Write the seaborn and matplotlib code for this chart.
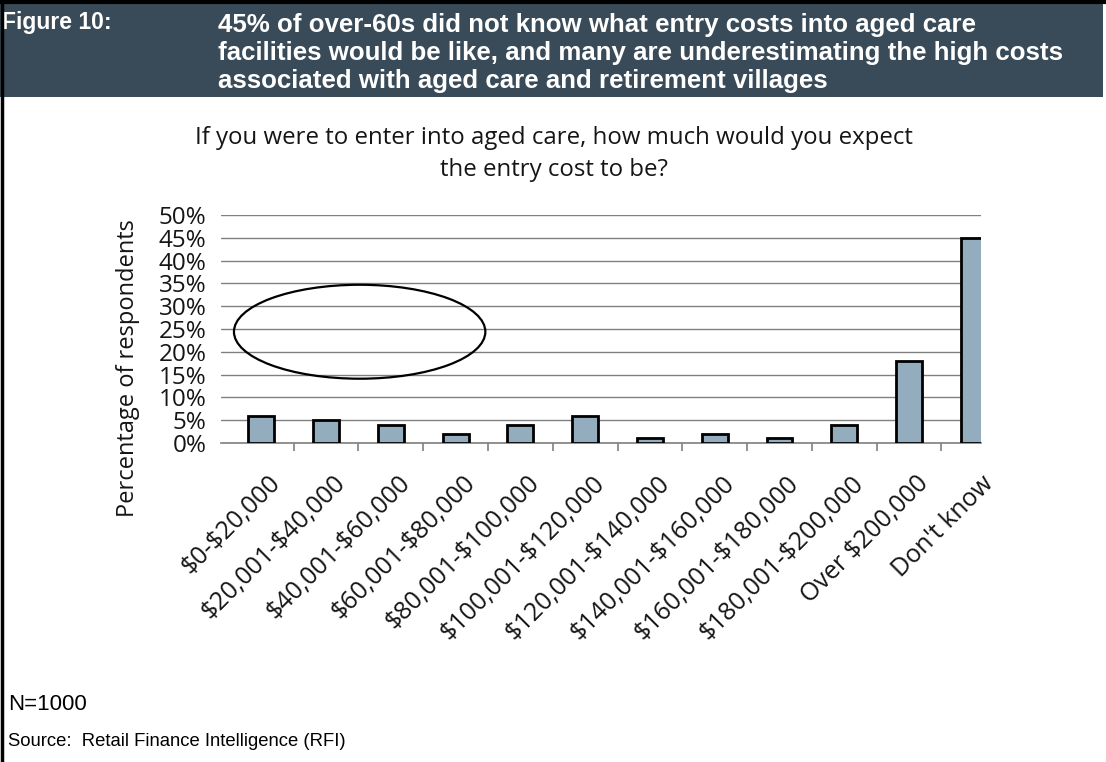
import matplotlib
matplotlib.use("Agg")
import matplotlib.pyplot as plt
import matplotlib.transforms as mtransforms
from matplotlib.patches import Ellipse, Rectangle
from matplotlib.lines import Line2D
import seaborn as sns
import pandas as pd

# Survey answers: expected entry cost into aged care
categories = ["$0-$20,000", "$20,001-$40,000", "$40,001-$60,000", "$60,001-$80,000",
              "$80,001-$100,000", "$100,001-$120,000", "$120,001-$140,000",
              "$140,001-$160,000", "$160,001-$180,000", "$180,001-$200,000",
              "Over $200,000", "Don't know"]
share_pct = [6, 5, 4, 2, 4, 6, 1, 2, 1, 4, 18, 45]
y_ticks = [0, 5, 10, 15, 20, 25, 30, 35, 40, 45, 50]

header_label = "Figure 10:"
header_text = ("45% of over-60s did not know what entry costs into aged care\n"
               "facilities would be like, and many are underestimating the high costs\n"
               "associated with aged care and retirement villages")
chart_title = ("If you were to enter into aged care, how much would you expect\n"
               "the entry cost to be?")
sample_note = "N=1000"
source_note = "Source:  Retail Finance Intelligence (RFI)"

df = pd.DataFrame({"category": categories, "share": share_pct})

sns.set_theme(style="white")
W, H = 1106, 762
fig = plt.figure(figsize=(W / 100, H / 100), dpi=100)
fig.patch.set_facecolor("white")

chart_font = ["Open Sans", "DejaVu Sans"]
note_font = ["Liberation Sans", "DejaVu Sans"]
ink = "#151515"


def fx(px):
    return px / W


def fy(py):
    return 1 - py / H


def plain(s):
    # keep dollar signs literal instead of starting mathtext
    return s.replace("$", r"\$")


# Header band
fig.add_artist(Rectangle((0, fy(97)), fx(1103), 97 / H, transform=fig.transFigure,
                         facecolor="#394B58", edgecolor="none", zorder=0))
fig.text(fx(2), fy(23), header_label, color="white", fontsize=16.5, fontweight="bold",
         family=note_font, ha="left", va="center")
fig.text(fx(218), fy(53), header_text, color="white", fontsize=18.6, fontweight="bold",
         family=note_font, ha="left", va="center", linespacing=1.2)

# Outer border lines
fig.add_artist(Line2D([fx(1.5), fx(1.5)], [0, 1], transform=fig.transFigure,
                      color="black", lw=2.5, zorder=5))
fig.add_artist(Line2D([0, 1], [fy(1.5), fy(1.5)], transform=fig.transFigure,
                      color="black", lw=3, zorder=5))

# Chart area
ax = fig.add_axes([fx(221), fy(443), fx(981 - 221), (443 - 215) / H])
sns.barplot(data=df, x="category", y="share", ax=ax, color="#93ACBE", width=0.4,
            edgecolor="black", linewidth=2, saturation=1, zorder=3)

ax.set_xlim(-0.62, 11.11)
ax.set_ylim(0, 50)
ax.set_yticks(y_ticks)
ax.set_yticklabels([f"{v}%" for v in y_ticks], family=chart_font, fontsize=17.5,
                   color=ink)
ax.yaxis.grid(True, color="#808080", lw=1.0, zorder=0)
ax.xaxis.grid(False)
ax.tick_params(axis="y", length=0, pad=10.5)
for s in ["left", "right", "top"]:
    ax.spines[s].set_visible(False)
ax.spines["bottom"].set_color("#808080")
ax.spines["bottom"].set_linewidth(1.2)
ax.set_axisbelow(True)

ax.set_xticks(range(len(categories)))
ax.set_xticklabels([plain(c) for c in categories], rotation=45, ha="right", va="top",
                   rotation_mode="anchor", family=chart_font, fontsize=18, color=ink)
ax.tick_params(axis="x", length=0, pad=20)
shift = mtransforms.ScaledTranslation(7 / 100, 0, fig.dpi_scale_trans)
for lab in ax.get_xticklabels():
    lab.set_transform(lab.get_transform() + shift)
ax.set_xticks([k + 0.5 for k in range(len(categories) - 1)], minor=True)
ax.tick_params(axis="x", which="minor", length=5.8, width=1.2, color="#808080",
               direction="out", bottom=True)

ax.set_xlabel("")
ax.set_ylabel("Percentage of respondents", family=chart_font, fontsize=17,
              color=ink)
ax.yaxis.label.set_va("center")
ax.yaxis.set_label_coords((128 - 221) / 760, (443 - 368) / 228)

# Highlight of the low-cost answers
ax.add_patch(Ellipse((1.52, 24.4), 3.88, 20.6, fill=False, edgecolor="black",
                     lw=1.6, zorder=4, clip_on=False))

fig.text(fx(554), fy(154), chart_title, family=chart_font, fontsize=17.3, color=ink,
         ha="center", va="center", linespacing=1.45)

fig.text(fx(8), fy(705), sample_note, family=note_font, fontsize=16, color="black",
         ha="left", va="center")
fig.text(fx(8), fy(742), source_note, family=note_font, fontsize=13.3, color="black",
         ha="left", va="center")

fig.savefig("out.png", dpi=100)
